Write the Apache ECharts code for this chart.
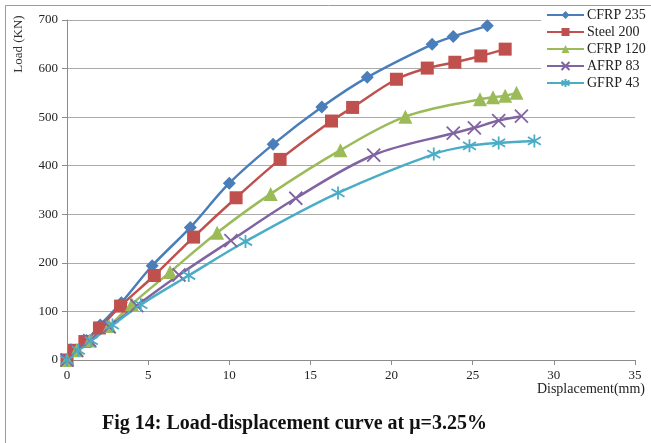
<!DOCTYPE html>
<html>
<head>
<meta charset="utf-8">
<script src="https://cdn.jsdelivr.net/npm/echarts@6/dist/echarts.min.js"></script>
<style>html,body{margin:0;padding:0;background:#fff;}#c{width:651px;height:443px;}</style>
</head>
<body>
<div id="c"></div>
<script>
var seriesNames = ['CFRP 235', 'Steel 200', 'CFRP 120', 'AFRP 83', 'GFRP 43'];
var cfrp235 = [[0,0],[0.5,20],[1.2,40],[2.05,72],[3.35,118],[5.25,194],[7.6,273],[10.0,364],[12.7,444],[15.7,521],[18.5,582],[22.5,650],[23.8,666],[25.9,688]];
var steel200 = [[0,0],[0.45,20],[1.1,38],[2.0,66],[3.3,111],[5.38,174],[7.8,253],[10.42,334],[13.13,413],[16.3,492],[17.6,520],[20.3,578],[22.2,601],[23.9,613],[25.5,626],[27.0,640]];
var cfrp120 = [[0,0],[0.6,20],[1.4,40],[2.6,70],[4.0,115],[6.35,181],[9.25,262],[12.55,342],[16.85,432],[20.85,501],[25.45,537],[26.25,541],[27.0,544],[27.7,550]];
var afrp83 = [[0,0],[0.6,20],[1.4,40],[2.6,68],[4.3,112],[6.9,175],[10.1,246],[14.1,333],[18.9,422],[23.8,467],[25.1,478],[26.6,493],[28.0,502]];
var gfrp43 = [[0,0],[0.7,20],[1.5,40],[2.8,72],[4.55,114],[7.5,174],[11.0,244],[16.7,344],[22.6,424],[24.8,441],[26.6,447],[28.8,451]];
var xTicks = [0, 5, 10, 15, 20, 25, 30, 35];
var yTicks = [0, 100, 200, 300, 400, 500, 600, 700];

var colors = ['#4A7EBB', '#C0504D', '#9BBB59', '#8064A2', '#4BACC6'];
var symbols = ['diamond', 'rect', 'triangle',
  'path://M0,0L10,10M10,0L0,10',
  'path://M5,0L5,10M0,2L10,8M10,2L0,8'];
var sizes = [13, 13, 14, 13, 13];
var datas = [cfrp235, steel200, cfrp120, afrp83, gfrp43];
var serif = '"Liberation Serif", "DejaVu Serif", serif';

var chart = echarts.init(document.getElementById('c'), null, {renderer: 'canvas'});
var series = seriesNames.map(function (n, i) {
  var isStroke = i >= 3;
  return {
    name: n,
    type: 'line',
    data: datas[i],
    smooth: 0.35,
    symbol: symbols[i],
    symbolSize: sizes[i],
    showAllSymbol: true,
    lineStyle: {color: colors[i], width: 2.5},
    itemStyle: {color: colors[i], borderColor: colors[i], borderWidth: isStroke ? 1.8 : 0},
    emphasis: {disabled: true},
    animation: false
  };
});

chart.setOption({
  animation: false,
  backgroundColor: '#fff',
  grid: {left: 67, right: 16, top: 20, bottom: 83},
  xAxis: {
    type: 'value', min: 0, max: 35, interval: 5,
    axisLine: {show: true, lineStyle: {color: '#8c8c8c', width: 1}},
    axisTick: {show: true, length: 5, lineStyle: {color: '#8c8c8c'}},
    splitLine: {show: false},
    axisLabel: {color: '#222', fontFamily: serif, fontSize: 13, margin: 9,
      formatter: function (v) { return xTicks.indexOf(v) >= 0 ? String(v) : ''; }}
  },
  yAxis: {
    type: 'value', min: 0, max: 700, interval: 100,
    axisLine: {show: true, lineStyle: {color: '#8c8c8c', width: 1}},
    axisTick: {show: true, length: 5, lineStyle: {color: '#8c8c8c'}},
    splitLine: {show: true, lineStyle: {color: '#ababab', width: 1}},
    axisLabel: {color: '#222', fontFamily: serif, fontSize: 13, margin: 9,
      formatter: function (v) { return yTicks.indexOf(v) >= 0 ? String(v) : ''; }}
  },
  legend: {
    orient: 'vertical', left: 541, top: 0,
    padding: [8, 8, 6, 5],
    backgroundColor: '#fff',
    itemWidth: 37, itemHeight: 10, itemGap: 3,
    textStyle: {fontFamily: serif, fontSize: 14, color: '#222', padding: [0, 0, 0, -2]},
    data: seriesNames
  },
  graphic: [
    {type: 'polyline', shape: {points: [[5.5, 443], [5.5, 5.5], [651, 5.5]]}, style: {stroke: '#9a9a9a', fill: null, lineWidth: 1}, z: 100},
    {type: 'text', x: 19, y: 44, rotation: Math.PI / 2,
      style: {text: 'Load (KN)', font: '13px ' + serif, fill: '#333', textAlign: 'center', textVerticalAlign: 'middle'}},
    {type: 'text', x: 645, y: 389,
      style: {text: 'Displacement(mm)', font: '14px ' + serif, fill: '#222', textAlign: 'right', textVerticalAlign: 'middle'}},
    {type: 'text', x: 102, y: 424,
      style: {text: 'Fig 14: Load-displacement curve at \u03bc=3.25%', font: 'bold 20px ' + serif, fill: '#111', textAlign: 'left', textVerticalAlign: 'middle'}}
  ],
  series: series
});
</script>
</body>
</html>
